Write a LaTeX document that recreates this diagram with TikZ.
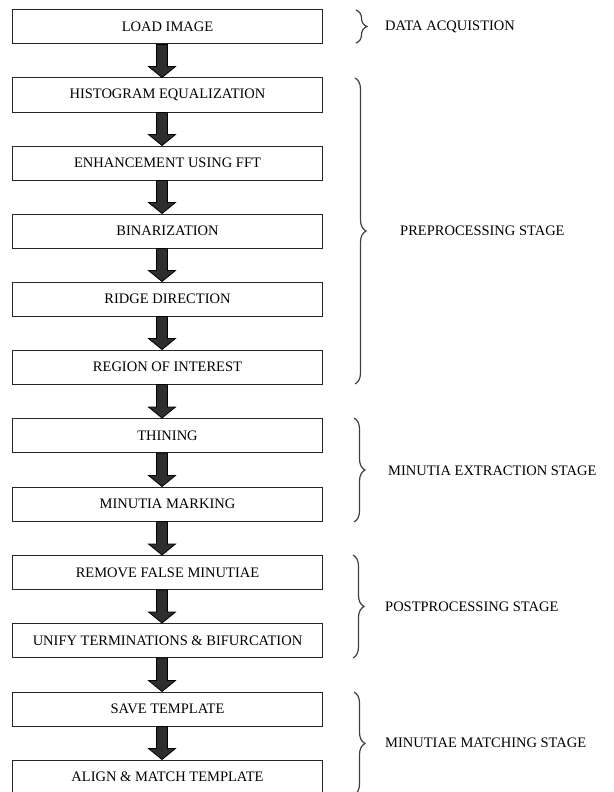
\documentclass[tikz,border=0pt]{standalone}
\usepackage{fontspec}
\setmainfont{Liberation Serif}
\usetikzlibrary{calc,decorations.pathreplacing}
\tikzset{
  stepbox/.style={draw=black!85, line width=1bp, fill=white, minimum width=309bp, minimum height=34bp, inner sep=0pt, font=\fontsize{14.5bp}{17bp}\selectfont},
  arr/.style={fill=black!82, draw=black, line width=0.8bp, line join=miter},
  stagebrace/.style={decorate, decoration={brace, amplitude=11bp}, draw=black!75, line width=1.2bp},
  stagelabel/.style={anchor=west, inner sep=0pt, font=\fontsize{14.5bp}{17bp}\selectfont}
}
\newcommand\flowarr[2]{%
  \draw[arr] ($(#1.south)+(-11,0)$) -- ($(#2.north)+(-11,-11)$) -- ($(#2.north)+(-19,-11)$) -- ($(#2.north)+(-5.5,0)$) -- ($(#2.north)+(8,-11)$) -- ($(#2.north)+(0,-11)$) -- (#1.south) -- cycle;}
\begin{document}
\begin{tikzpicture}[x=1bp,y=-1bp]
\useasboundingbox (0,0) rectangle (614,792);
\fill[white] (0,0) rectangle (614,792);
\node[stepbox] (b1) at (167.5,27) {LOAD IMAGE};
\node[stepbox] (b2) at (167.5,95) {HISTOGRAM EQUALIZATION};
\node[stepbox] (b3) at (167.5,163) {ENHANCEMENT USING FFT};
\node[stepbox] (b4) at (167.5,231) {BINARIZATION};
\node[stepbox] (b5) at (167.5,299) {RIDGE DIRECTION};
\node[stepbox] (b6) at (167.5,367) {REGION OF INTEREST};
\node[stepbox] (b7) at (167.5,435.5) {THINING};
\node[stepbox] (b8) at (167.5,504) {MINUTIA MARKING};
\node[stepbox] (b9) at (167.5,572.5) {REMOVE FALSE MINUTIAE};
\node[stepbox] (b10) at (167.5,640.5) {UNIFY TERMINATIONS \& BIFURCATION};
\node[stepbox] (b11) at (167.5,709) {SAVE TEMPLATE};
\node[stepbox] (b12) at (167.5,777) {ALIGN \& MATCH TEMPLATE};
\flowarr{b1}{b2}
\flowarr{b2}{b3}
\flowarr{b3}{b4}
\flowarr{b4}{b5}
\flowarr{b5}{b6}
\flowarr{b6}{b7}
\flowarr{b7}{b8}
\flowarr{b8}{b9}
\flowarr{b9}{b10}
\flowarr{b10}{b11}
\flowarr{b11}{b12}
% braces
\coordinate (s1t) at (356,10); \coordinate (s1b) at (356,43);
\draw[stagebrace] (s1t) -- (s1b);
\node[stagelabel] (l1) at (385,27) {DATA ACQUISTION};
\coordinate (s2t) at (355,78); \coordinate (s2b) at (355,384);
\draw[stagebrace] (s2t) -- (s2b);
\node[stagelabel] (l2) at (400,231) {PREPROCESSING STAGE};
\coordinate (s3t) at (354,418); \coordinate (s3b) at (354,522);
\draw[stagebrace] (s3t) -- (s3b);
\node[stagelabel] (l3) at (388,471) {MINUTIA EXTRACTION STAGE};
\coordinate (s4t) at (353,555); \coordinate (s4b) at (353,658);
\draw[stagebrace] (s4t) -- (s4b);
\node[stagelabel] (l4) at (385,607) {POSTPROCESSING STAGE};
\coordinate (s5t) at (354,692); \coordinate (s5b) at (354,795);
\draw[stagebrace] (s5t) -- (s5b);
\node[stagelabel] (l5) at (385,743) {MINUTIAE MATCHING STAGE};
\end{tikzpicture}
\end{document}
